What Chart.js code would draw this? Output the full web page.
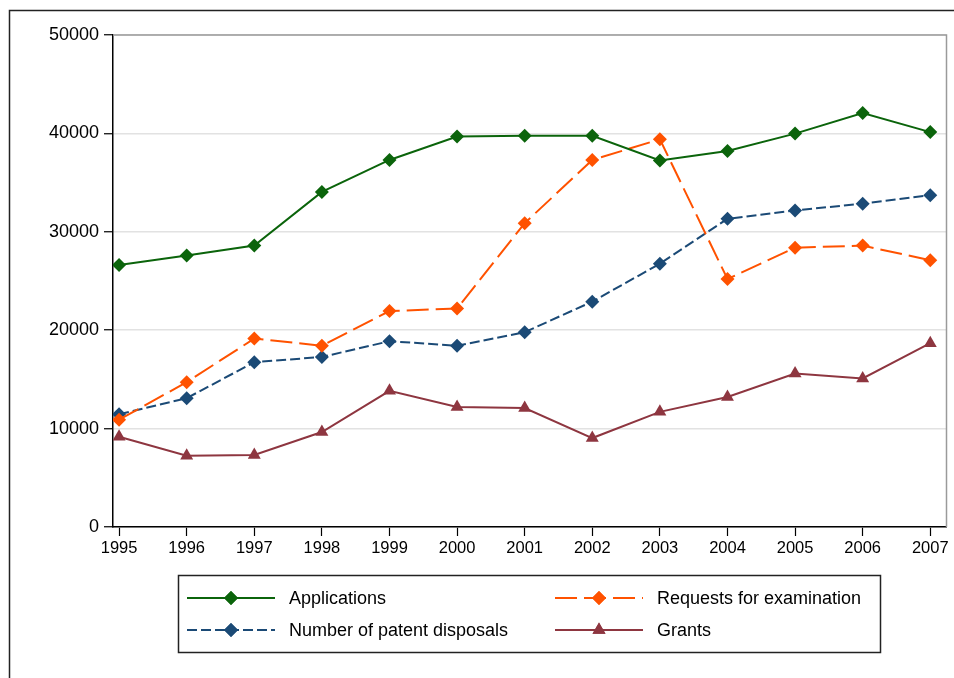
<!DOCTYPE html>
<html>
<head>
<meta charset="utf-8">
<script src="https://cdn.jsdelivr.net/npm/chart.js@4"></script>
<style>
  html, body { margin: 0; padding: 0; background: #fff; }
  #wrap { position: relative; width: 954px; height: 678px; }
</style>
</head>
<body>
<div id="wrap"><canvas id="c"></canvas></div>
<script>
const years = [1995, 1996, 1997, 1998, 1999, 2000, 2001, 2002, 2003, 2004, 2005, 2006, 2007];
const applications = [26630, 27580, 28600, 34050, 37300, 39680, 39760, 39760, 37240, 38220, 39980, 42080, 40130];
const requests = [10900, 14720, 19150, 18420, 21950, 22200, 30880, 37300, 39400, 25200, 28380, 28600, 27110];
const disposals = [11460, 13090, 16750, 17280, 18880, 18420, 19800, 22900, 26760, 31320, 32170, 32860, 33720];
const grants = [9170, 7240, 7320, 9650, 13840, 12200, 12090, 9040, 11700, 13220, 15600, 15100, 18680];
const yTicks = [0, 10000, 20000, 30000, 40000, 50000];
const seriesNames = ['Applications', 'Requests for examination', 'Number of patent disposals', 'Grants'];

const FONT = 'Liberation Sans, Arial, sans-serif';
const toXY = arr => arr.map((v, i) => ({ x: years[i], y: v }));

const datasets = [
  { label: seriesNames[0], data: toXY(applications), borderColor: '#0b640b', backgroundColor: '#0b640b',
    borderWidth: 2, pointStyle: 'rectRot', pointRadius: 7, borderDash: [] },
  { label: seriesNames[1], data: toXY(requests), borderColor: '#ff5200', backgroundColor: '#ff5200',
    borderWidth: 2, pointStyle: 'rectRot', pointRadius: 7, borderDash: [22, 7] },
  { label: seriesNames[2], data: toXY(disposals), borderColor: '#1b4a76', backgroundColor: '#1b4a76',
    borderWidth: 2, pointStyle: 'rectRot', pointRadius: 7, borderDash: [10, 4] },
  { label: seriesNames[3], data: toXY(grants), borderColor: '#8e3640', backgroundColor: '#8e3640',
    borderWidth: 2, pointStyle: 'triangle', pointRadius: 7.5, borderDash: [] }
];
datasets.forEach(d => { d.pointBorderWidth = 0; d.tension = 0; d.fill = false; });

const framePlugin = {
  id: 'frame',
  afterDraw(chart) {
    const ctx = chart.ctx;
    const a = chart.chartArea;
    ctx.save();
    // outer frame (top and left)
    ctx.strokeStyle = '#222';
    ctx.lineWidth = 1.5;
    ctx.beginPath();
    ctx.moveTo(954, 10.5);
    ctx.lineTo(9.5, 10.5);
    ctx.lineTo(9.5, 678);
    ctx.stroke();
    // plot region top & right border
    ctx.strokeStyle = '#9a9a9a';
    ctx.lineWidth = 1.5;
    ctx.beginPath();
    ctx.moveTo(a.left, a.top);
    ctx.lineTo(a.right, a.top);
    ctx.lineTo(a.right, a.bottom);
    ctx.stroke();

    // legend box
    const bx = 178, by = 575, bw = 702, bh = 77;
    ctx.strokeStyle = '#222';
    ctx.lineWidth = 1.5;
    ctx.strokeRect(bx + 0.5, by + 0.5, bw, bh);
    const cols = [187, 555];
    const rows = [598, 630];
    const order = [[0, 0, 0], [1, 1, 0], [2, 0, 1], [3, 1, 1]];
    ctx.font = '18px ' + FONT;
    ctx.textBaseline = 'middle';
    ctx.textAlign = 'left';
    order.forEach(([di, c, r]) => {
      const ds = chart.data.datasets[di];
      const x0 = cols[c], y = rows[r];
      const x1 = x0 + 88;
      ctx.save();
      ctx.strokeStyle = ds.borderColor;
      ctx.lineWidth = ds.borderWidth;
      ctx.setLineDash(ds.borderDash || []);
      ctx.beginPath();
      ctx.moveTo(x0, y);
      ctx.lineTo(x1, y);
      ctx.stroke();
      ctx.restore();
      ctx.fillStyle = ds.backgroundColor;
      Chart.helpers.drawPoint(ctx, { pointStyle: ds.pointStyle, radius: ds.pointRadius, borderWidth: 0, rotation: 0 }, (x0 + x1) / 2, y);
      ctx.fill();
      ctx.fillStyle = '#000';
      ctx.fillText(ds.label, x0 + 102, y + 1);
    });
    ctx.restore();
  }
};

new Chart(document.getElementById('c'), {
  type: 'line',
  data: { datasets },
  options: {
    responsive: true,
    maintainAspectRatio: false,
    animation: false,
    layout: { padding: { left: 0, right: 7, top: 35, bottom: 0 } },
    plugins: { legend: { display: false }, tooltip: { enabled: false } },
    elements: { line: { borderCapStyle: 'butt' } },
    scales: {
      x: {
        type: 'linear',
        min: 1994.91,
        max: 2007.24,
        afterBuildTicks: s => { s.ticks = years.map(v => ({ value: v })); },
        afterFit: s => { s.height = 151; },
        grid: { drawOnChartArea: false, drawTicks: true, tickLength: 9, tickColor: '#000', tickWidth: 1.2 },
        border: { display: true, color: '#000', width: 1.5 },
        ticks: { color: '#000', font: { family: FONT, size: 16.5 }, padding: 3, maxRotation: 0, autoSkip: false,
                 callback: v => String(v) }
      },
      y: {
        type: 'linear',
        min: 0,
        max: 50000,
        afterBuildTicks: s => { s.ticks = yTicks.map(v => ({ value: v })); },
        afterFit: s => { s.width = 113; },
        grid: { color: '#e2e2e2', lineWidth: 1.5, drawTicks: true, tickLength: 9, tickColor: '#000', tickWidth: 1.2 },
        border: { display: true, color: '#000', width: 1.5 },
        ticks: { color: '#000', font: { family: FONT, size: 18 }, padding: 5, callback: v => String(v) }
      }
    }
  },
  plugins: [framePlugin]
});
</script>
</body>
</html>
